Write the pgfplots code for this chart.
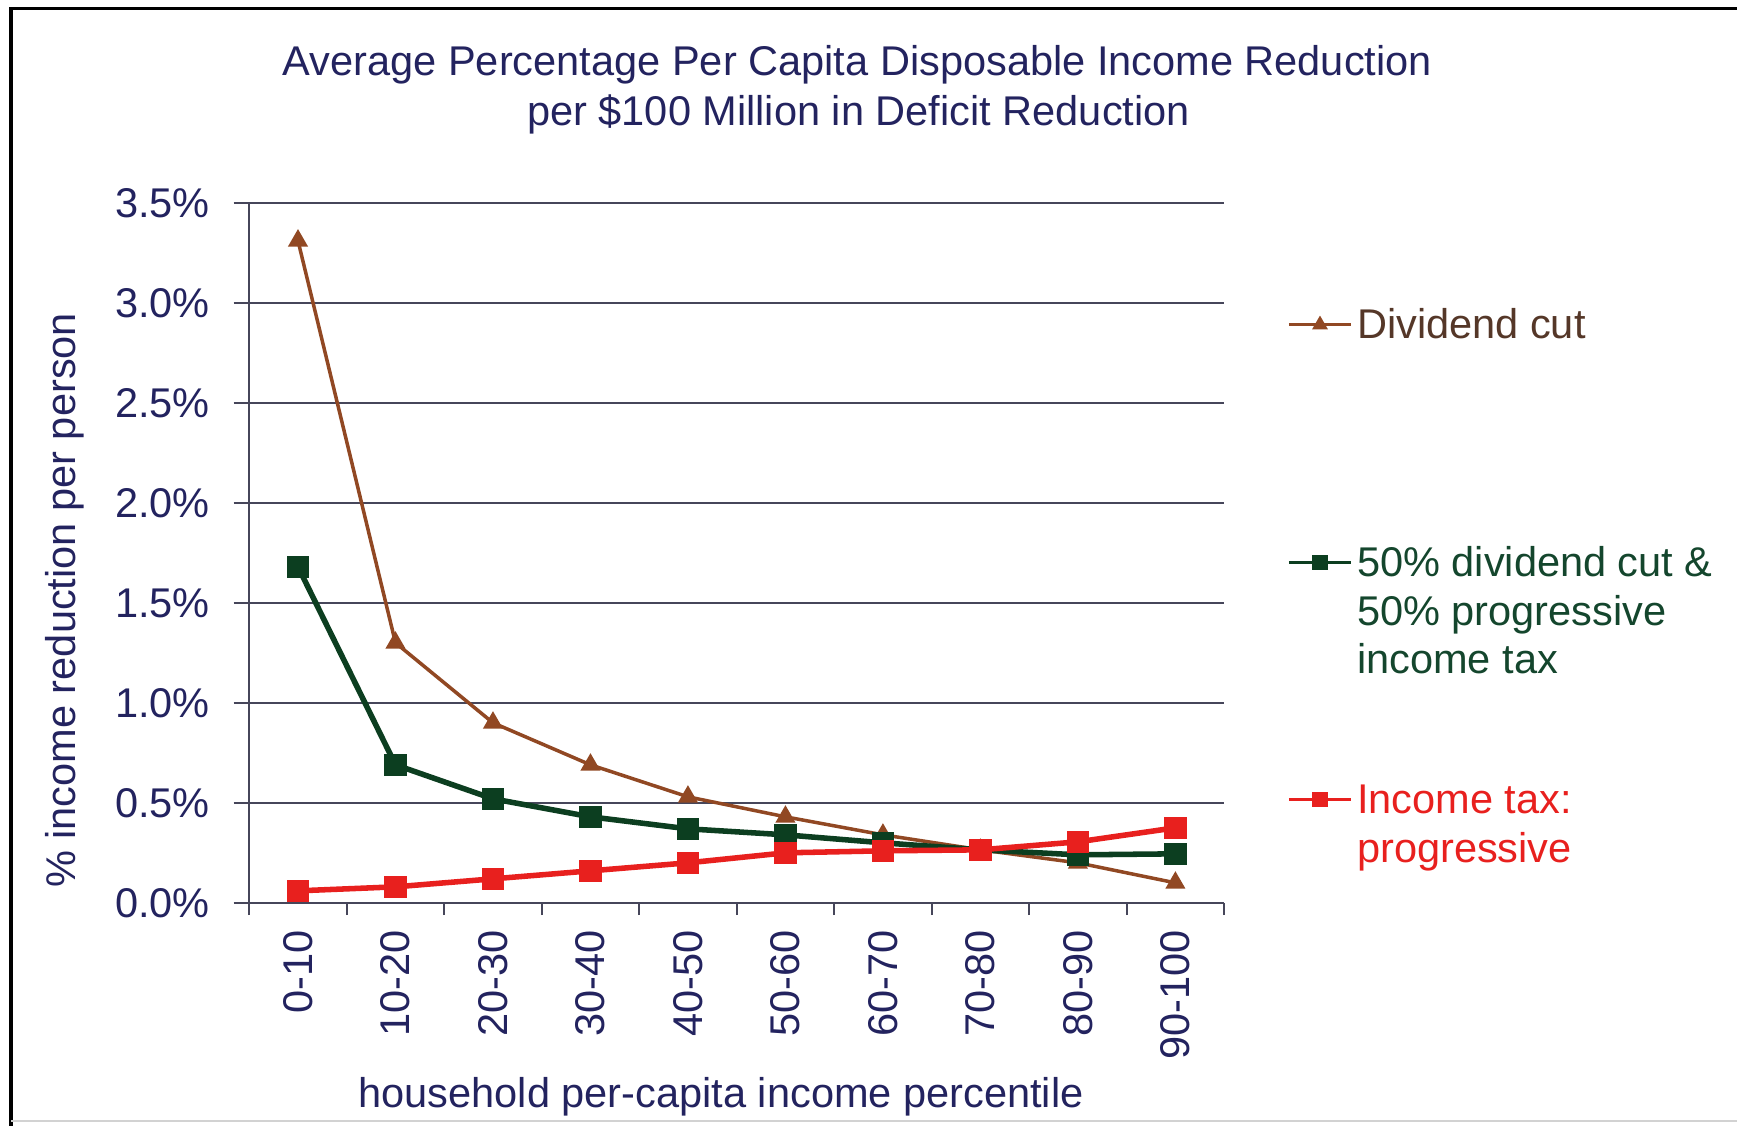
\documentclass[border=0pt]{standalone}
\usepackage{pgfplots}
\pgfplotsset{compat=1.18}
\usepackage{fontspec}
\setmainfont{Liberation Sans}
\definecolor{navy}{RGB}{35,35,95}
\definecolor{brownc}{RGB}{145,72,35}
\definecolor{brownt}{RGB}{85,55,40}
\definecolor{greenc}{RGB}{12,62,32}
\definecolor{greent}{RGB}{20,70,45}
\definecolor{redc}{RGB}{232,32,30}
\definecolor{gridc}{RGB}{70,70,90}
\newcommand{\lfont}{\fontsize{11.25}{13.2}\selectfont}
\newcommand{\lent}[2]{\textcolor{#1}{\raisebox{0pt}[8pt][0pt]{\parbox[t]{110pt}{\raggedright #2}}}}
\begin{document}
\begin{tikzpicture}
\useasboundingbox (0,0) rectangle (470.4pt,304.8pt);
\draw[black, line width=0.9pt] (3pt,0) -- (3pt,302.55pt) -- (470.4pt,302.55pt);
\draw[gray!35, line width=0.6pt] (3pt,1.2pt) -- (470.4pt,1.2pt);
\node[font=\lfont, text=navy, anchor=base, inner sep=0pt] at (232.2pt,284.25pt) {Average Percentage Per Capita Disposable Income Reduction};
\node[font=\lfont, text=navy, anchor=base, inner sep=0pt] at (232.5pt,270.75pt) {per \$100 Million in Deficit Reduction};
\begin{axis}[
  at={(67.5pt,60.3pt)}, anchor=south west,
  scale only axis, width=264pt, height=189.6pt,
  xmin=-0.5, xmax=9.5, ymin=0, ymax=3.5,
  axis x line*=bottom, axis y line*=left,
  axis line style={gridc, line width=0.6pt},
  xtick={0,...,9},
  xticklabels={0-10,10-20,20-30,30-40,40-50,50-60,60-70,70-80,80-90,90-100},
  minor xtick={-0.5,0.5,...,9.5},
  ytick={0,0.5,...,3.5},
  yticklabel={\pgfmathprintnumber[fixed,fixed zerofill,precision=1]{\tick}\%},
  /pgf/number format/assume math mode=true,
  tick align=outside,
  major tick length=4.2pt, minor tick length=3.3pt,
  major x tick style={draw=none},
  tick style={gridc, line width=0.6pt},
  ymajorgrids, major grid style={gridc, line width=0.6pt},
  ticklabel style={font=\lfont, text=navy},
  x tick label style={rotate=90, anchor=east, inner sep=0pt},
  xticklabel shift=3pt,
  y tick label style={anchor=east, inner sep=0pt},
  yticklabel shift=6.3pt,
  xlabel={household per-capita income percentile},
  ylabel={\% income reduction per person},
  label style={font=\lfont, text=navy},
  xlabel style={at={(axis description cs:0.484,-0.277)}, anchor=center},
  ylabel style={at={(axis description cs:-0.189,0.432)}, anchor=center, rotate=0},
  legend style={at={(axis description cs:1.0648,0.8478)}, anchor=north west,
    draw=none, fill=none, inner sep=0pt, outer sep=0pt, row sep=54.8pt, column sep=1.2pt,
    nodes={inner sep=0pt}, cells={anchor=base west}, font=\lfont},
  legend image code/.code={\draw[#1, line width=0.9pt, mark size=1.6pt, mark repeat=2, mark phase=2] plot coordinates {(0pt,3.8pt) (8.4pt,3.8pt) (16.8pt,3.8pt)};},
]
\addplot[brownc, line width=0.95pt, mark=triangle*, mark size=2.2pt, mark options={solid}] coordinates {
(0,3.31) (1,1.30) (2,0.90) (3,0.69) (4,0.53) (5,0.43) (6,0.34) (7,0.265) (8,0.20) (9,0.10)};
\addlegendentry{\lent{brownt}{Dividend cut}}
\addplot[greenc, line width=1.5pt, mark=square*, mark size=2.3pt, mark options={solid}] coordinates {
(0,1.68) (1,0.69) (2,0.52) (3,0.43) (4,0.37) (5,0.34) (6,0.30) (7,0.265) (8,0.24) (9,0.245)};
\addlegendentry{\lent{greent}{50\% dividend cut \&\\50\% progressive\\income tax}}
\addplot[redc, line width=1.5pt, mark=square*, mark size=2.3pt, mark options={solid}] coordinates {
(0,0.06) (1,0.08) (2,0.12) (3,0.16) (4,0.20) (5,0.25) (6,0.26) (7,0.265) (8,0.305) (9,0.375)};
\addlegendentry{\lent{redc}{Income tax:\\progressive}}
\end{axis}
\end{tikzpicture}
\end{document}
